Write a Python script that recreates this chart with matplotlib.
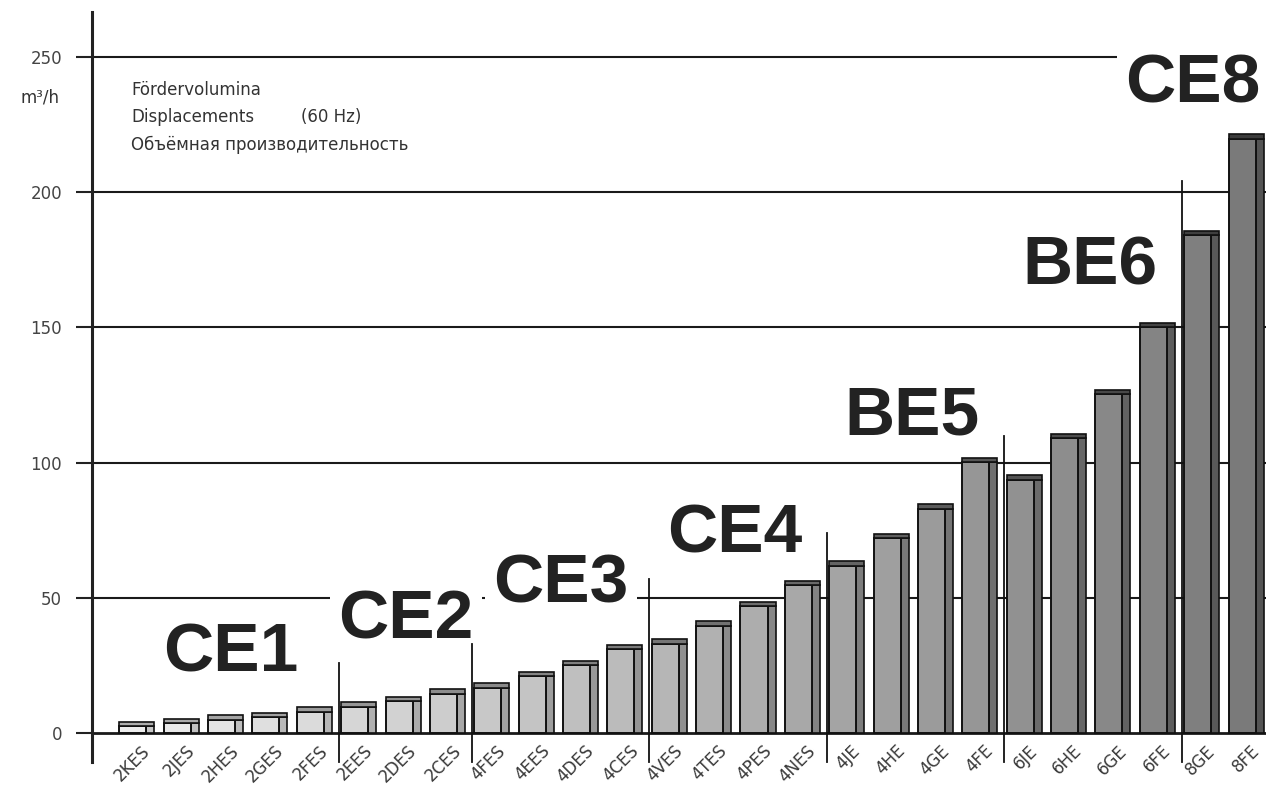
import numpy as np
import matplotlib
matplotlib.use("Agg")
import matplotlib.pyplot as plt

# compressor models and displacement (m3/h)
models = ["2KES", "2JES", "2HES", "2GES", "2FES",
          "2EES", "2DES", "2CES",
          "4FES", "4EES", "4DES", "4CES",
          "4VES", "4TES", "4PES", "4NES",
          "4JE", "4HE", "4GE", "4FE",
          "6JE", "6HE", "6GE", "6FE",
          "8GE", "8FE"]
volumes = [4.1, 5.2, 6.5, 7.6, 9.5,
           11.4, 13.4, 16.2,
           18.4, 22.7, 26.8, 32.5,
           34.7, 41.3, 48.5, 56.2,
           63.5, 73.6, 84.5, 101.8,
           95.3, 110.5, 126.8, 151.6,
           185.6, 221.3]
series = ["CE1", "CE2", "CE3", "CE4", "BE5", "BE6", "CE8"]
series_size = [5, 3, 4, 4, 4, 4, 2]
yticks = [0, 50, 100, 150, 200, 250]

# layout of the series names (x in bar units, baseline y in m3/h) and divider heights
label_pos = [(2.12, 22.6), (6.06, 35.1), (9.56, 48.1), (13.48, 66.6),
             (17.47, 110.2), (21.48, 165.7), (23.81, 233.0)]
divider_top = [26, 33, 57, 74, 110, 204]

fig = plt.figure(figsize=(12.66, 7.96), dpi=100)
ax = fig.add_axes([92 / 1266, 34 / 796, 1 - 92 / 1266, 0.985 - 34 / 796])
ax.set_xlim(-1.01, 25.45)
ax.set_ylim(-10.7, 266.6)

for s in ["top", "right", "bottom"]:
    ax.spines[s].set_visible(False)
ax.spines["left"].set_linewidth(2.2)
ax.spines["left"].set_color("#222222")

ax.set_yticks(yticks)
ax.set_yticklabels([str(t) for t in yticks], fontsize=12, color="#444444")
ax.tick_params(axis="y", length=11.5, width=1.5, pad=10, color="#222222")
ax.set_xticks([])

for t in yticks:
    ax.axhline(t, color="#1a1a1a", lw=2.0 if t == 0 else 1.5, zorder=1)

x = np.arange(len(models))
v = np.array(volumes)
grey = np.linspace(0.93, 0.48, len(models))
cap = 1.6

front_c = [(g, g, g) for g in grey]
side_c = [(g - 0.15, g - 0.15, g - 0.15) for g in grey]
top_c = [(g - 0.25, g - 0.25, g - 0.25) for g in grey]

ax.bar(x + 0.305, v - cap, width=0.18, color=side_c, edgecolor="#111111", lw=1.2, zorder=3)
ax.bar(x - 0.09, v - cap, width=0.61, color=front_c, edgecolor="#111111", lw=1.4, zorder=4)
ax.bar(x, np.full(len(v), cap), bottom=v - cap, width=0.79, color=top_c,
       edgecolor="#111111", lw=1.2, zorder=4)

for i, name in enumerate(models):
    ax.text(i + 0.1, -3.3, name, rotation=45, rotation_mode="anchor",
            ha="right", va="top", fontsize=12, color="#3a3a3a", clip_on=False)

# dividers between series
bounds = np.cumsum(series_size)[:-1] - 0.45
for b, top in zip(bounds, divider_top):
    ax.plot([b, b], [-10.7, top], color="#111111", lw=1.3, zorder=5, clip_on=False)

for name, (lx, ly) in zip(series, label_pos):
    ax.text(lx, ly, name, ha="center", va="baseline", fontsize=50,
            fontweight="bold", family="Liberation Sans", color="#222222", zorder=2,
            bbox=dict(facecolor="white", edgecolor="none", pad=6))

fig.text(20 / 1266, 1 - 102 / 796, "m³/h", fontsize=12, color="#333333", va="baseline")
fig.text(131 / 1266, 1 - 95 / 796, "Fördervolumina", fontsize=12, color="#333333", va="baseline")
fig.text(131 / 1266, 1 - 122 / 796, "Displacements", fontsize=12, color="#333333", va="baseline")
fig.text(301 / 1266, 1 - 122 / 796, "(60 Hz)", fontsize=12, color="#333333", va="baseline")
fig.text(131 / 1266, 1 - 150 / 796, "Объёмная производительность", fontsize=12, color="#333333",
         va="baseline")

fig.savefig("out.png", dpi=100)
